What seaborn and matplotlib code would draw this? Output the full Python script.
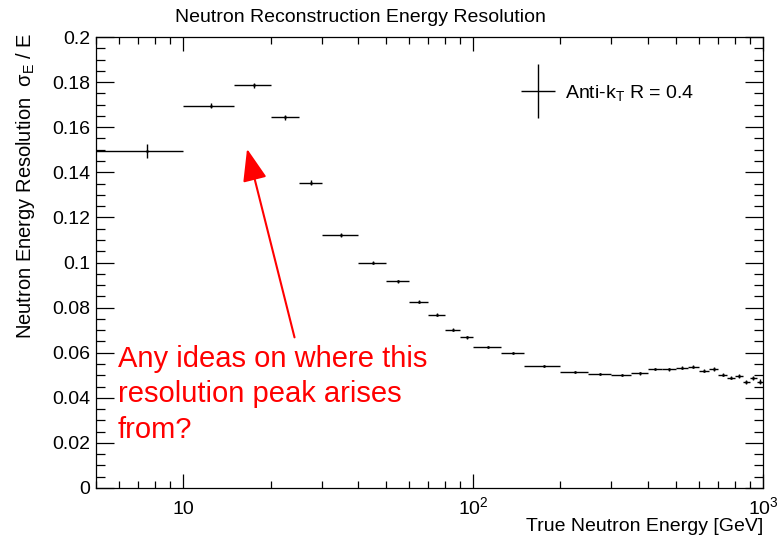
import seaborn as sns
import matplotlib.pyplot as plt
import matplotlib.ticker as mticker
from matplotlib.legend_handler import HandlerErrorbar
from matplotlib.container import ErrorbarContainer
import numpy as np
import pandas as pd

# Histogram bins of true neutron energy [GeV]
bin_edges = [5, 10, 15, 20, 25, 30, 40, 50, 60, 70, 80, 90, 100, 125, 150, 200,
             250, 300, 350, 400, 450, 500, 550, 600, 650, 700, 750, 800, 850,
             900, 950, 1000]
# sigma_E / E per bin
resolution = [0.1495, 0.1696, 0.1785, 0.1644, 0.1353, 0.1122, 0.0999, 0.0917,
              0.0826, 0.0769, 0.0702, 0.0668, 0.0625, 0.0600, 0.0541, 0.0516,
              0.0507, 0.0500, 0.0508, 0.0528, 0.0527, 0.0533, 0.0538, 0.0520,
              0.0528, 0.0503, 0.0490, 0.0497, 0.0470, 0.0487, 0.0472]
res_error = [0.0030, 0.0011, 0.0010, 0.0011, 0.0011, 0.0007, 0.0006, 0.0006,
             0.0006, 0.0006, 0.0006, 0.0006, 0.0005, 0.0005, 0.0005, 0.0005,
             0.0005, 0.0005, 0.0005, 0.0006, 0.0006, 0.0006, 0.0007, 0.0007,
             0.0007, 0.0008, 0.0008, 0.0008, 0.0009, 0.0009, 0.0010]
x_ticks = [10, 100, 1000]
x_tick_labels = ["10", "$10^{2}$", "$10^{3}$"]

edges = np.array(bin_edges, dtype=float)
lo, hi = edges[:-1], edges[1:]
centers = (lo + hi) / 2
df = pd.DataFrame({"energy": centers, "res": resolution, "err": res_error})

sns.set_theme(style="ticks")
plt.rcParams["font.family"] = ["Liberation Sans", "DejaVu Sans"]
plt.rcParams["mathtext.fontset"] = "custom"
plt.rcParams["mathtext.rm"] = "Liberation Sans"
plt.rcParams["mathtext.it"] = "Liberation Sans"
plt.rcParams["mathtext.sf"] = "Liberation Sans"
plt.rcParams["axes.linewidth"] = 0.9
for key in ["text.color", "axes.labelcolor", "xtick.color", "ytick.color",
            "axes.edgecolor", "xtick.labelcolor", "ytick.labelcolor"]:
    plt.rcParams[key] = "black"

W, H = 779, 538
fig = plt.figure(figsize=(W / 100, H / 100), dpi=100)
ax = fig.add_axes([96 / W, 1 - 488 / H, 667 / W, 451 / H])

eb = ax.errorbar(df["energy"], df["res"], xerr=[centers - lo, hi - centers],
                 yerr=df["err"], fmt="none", ecolor="black", elinewidth=1.0,
                 capsize=0, label="Anti-k$_{T}$ R = 0.4")
sns.scatterplot(data=df, x="energy", y="res", color="black", s=3,
                edgecolor=None, legend=False, ax=ax, zorder=3)

ax.set_xscale("log")
ax.set_xlim(5, 1000)
ax.set_ylim(0, 0.2)
ax.set_xticks(x_ticks, x_tick_labels)
ax.xaxis.set_minor_locator(mticker.LogLocator(base=10, subs=range(2, 10)))
ax.xaxis.set_minor_formatter(mticker.NullFormatter())
ax.yaxis.set_major_locator(mticker.MultipleLocator(0.02))
ax.yaxis.set_minor_locator(mticker.MultipleLocator(0.005))
ax.yaxis.set_major_formatter(mticker.FuncFormatter(lambda v, p: f"{v:g}"))

ax.tick_params(which="both", direction="in", top=True, right=True,
               color="black", labelcolor="black", labelsize=14, width=0.9)
ax.tick_params(axis="y", which="major", length=13, pad=4)
ax.tick_params(axis="y", which="minor", length=6.5)
ax.tick_params(axis="x", which="major", length=10, pad=18.5)
ax.tick_params(axis="x", which="minor", length=5)
for lab in ax.get_xticklabels():
    lab.set_verticalalignment("baseline")

ax.set_xlabel("True Neutron Energy [GeV]", fontsize=14, loc="right")
ax.xaxis.set_label_coords(1.0, -0.066)
ax.set_ylabel(r"Neutron Energy Resolution  $\sigma_{E}$ / E", fontsize=14.5, loc="top")
ax.yaxis.set_label_coords(-0.089, 1.009)

fig.text(360 / W, 1 - 18 / H, "Neutron Reconstruction Energy Resolution",
         ha="center", va="center", fontsize=14)

ax.legend(handles=[eb], handler_map={ErrorbarContainer: HandlerErrorbar(xerr_size=0.88, yerr_size=1.4)},
          frameon=False, loc="center left", bbox_to_anchor=(0.637, 0.876),
          borderpad=0, borderaxespad=0, handlelength=1.75, handletextpad=0.5,
          fontsize=14)

fig.text(118 / W, 1 - 345 / H, "Any ideas on where this\nresolution peak arises\nfrom?",
         color="red", fontsize=21, va="top", ha="left", linespacing=1.33)
ax.annotate("", xy=(16.6, 0.1504), xytext=(24.2, 0.0668),
            arrowprops=dict(arrowstyle="-|>,head_length=0.8,head_width=0.3",
                            color="red", lw=1.5, mutation_scale=25,
                            shrinkA=0, shrinkB=0))

fig.savefig("out.png", dpi=100)
